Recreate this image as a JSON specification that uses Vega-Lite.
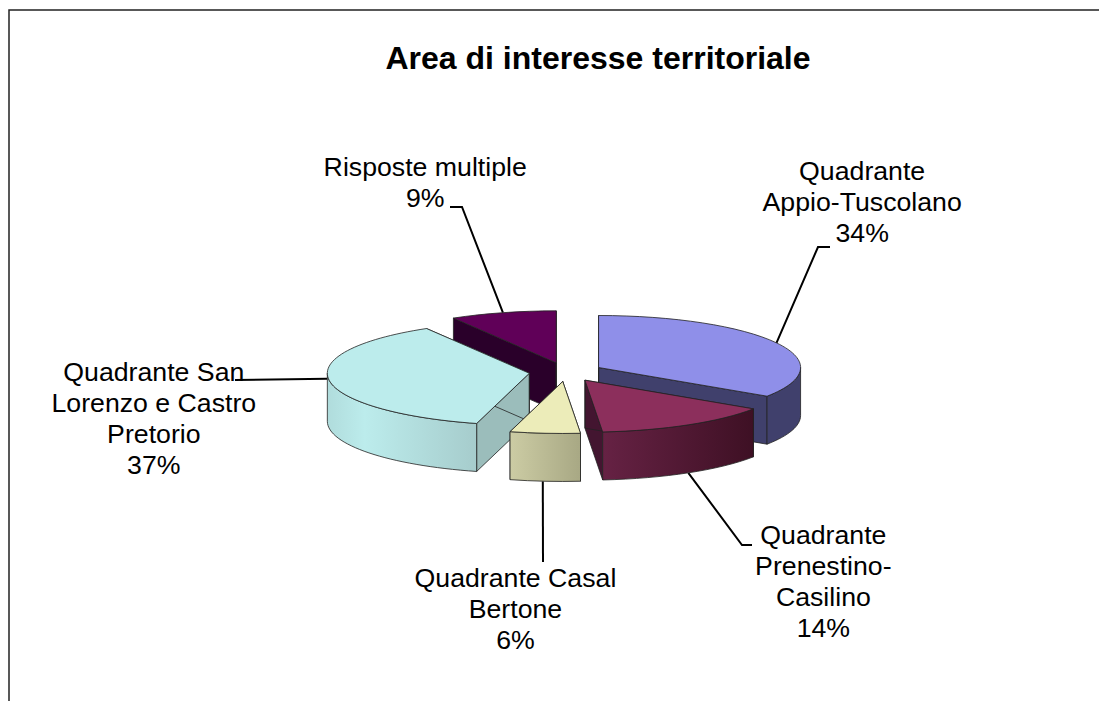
{
"$schema":"https://vega.github.io/schema/vega-lite/v6.json",
"width":1114,"height":724,"autosize":"none",
"padding":{"left":9,"top":10,"right":0,"bottom":0},
"background":"white",
"view":{"stroke":"#222","strokeWidth":1.5},
"title":{"text":"Area di interesse territoriale","font":"Liberation Sans","fontSize":32,"fontWeight":"bold","color":"black","anchor":"middle","dx":32,"offset":-98,"baseline":"bottom"},
"data":{"values":[
{"area":"Risposte multiple","label":"Risposte multiple\n9%","pct":8.5,"ord":5},
{"area":"Quadrante Appio-Tuscolano","label":"Quadrante\nAppio-Tuscolano\n34%","pct":34.3,"ord":1},
{"area":"Quadrante San Lorenzo e Castro Pretorio","label":"Quadrante San\nLorenzo e Castro\nPretorio\n37%","pct":37.3,"ord":4},
{"area":"Quadrante Prenestino-Casilino","label":"Quadrante\nPrenestino-\nCasilino\n14%","pct":14.3,"ord":2},
{"area":"Quadrante Casal Bertone","label":"Quadrante Casal\nBertone\n6%","pct":5.6,"ord":3}
]},
"transform":[
{"stack":"pct","groupby":[],"sort":[{"field":"ord","order":"ascending"}],"as":["s0","s1"]},
{"calculate":"datum.s0/100*2*PI","as":"t0"},
{"calculate":"datum.s1/100*2*PI","as":"t1"},
{"calculate":"(datum.t0+datum.t1)/2","as":"m"},
{"calculate":"37*sin(datum.m)","as":"ax"},
{"calculate":"-9.5*cos(datum.m)","as":"ay"},
{"calculate":"round((datum.ax+202*sin(datum.t0))*100)/100","as":"x0"},
{"calculate":"round((datum.ay-52*cos(datum.t0))*100)/100","as":"y0"},
{"calculate":"round((datum.ax+202*sin(datum.t1))*100)/100","as":"x1"},
{"calculate":"round((datum.ay-52*cos(datum.t1))*100)/100","as":"y1"},
{"calculate":"round(datum.ax*100)/100","as":"cx"},
{"calculate":"round(datum.ay*100)/100","as":"cy"},
{"calculate":"'M'+datum.cx+' '+datum.cy+' L'+datum.x0+' '+datum.y0+' A202 52 0 '+(datum.t1-datum.t0>PI?1:0)+' 1 '+datum.x1+' '+datum.y1+' Z'","as":"topPath"},
{"calculate":"'M'+datum.cx+' '+datum.cy+' L'+datum.x0+' '+datum.y0+' L'+datum.x0+' '+(datum.y0+48)+' L'+datum.cx+' '+(datum.cy+48)+' Z M'+datum.cx+' '+datum.cy+' L'+datum.x1+' '+datum.y1+' L'+datum.x1+' '+(datum.y1+48)+' L'+datum.cx+' '+(datum.cy+48)+' Z'","as":"facePath"},
{"calculate":"clamp(datum.t0,PI/2,3*PI/2)","as":"w0"},
{"calculate":"clamp(datum.t1,PI/2,3*PI/2)","as":"w1"},
{"calculate":"round((datum.ax+202*sin(datum.w0))*100)/100","as":"wx0"},
{"calculate":"round((datum.ay-52*cos(datum.w0))*100)/100","as":"wy0"},
{"calculate":"round((datum.ax+202*sin(datum.w1))*100)/100","as":"wx1"},
{"calculate":"round((datum.ay-52*cos(datum.w1))*100)/100","as":"wy1"},
{"calculate":"'M'+datum.wx0+' '+datum.wy0+' A202 52 0 0 1 '+datum.wx1+' '+datum.wy1+' L'+datum.wx1+' '+(datum.wy1+48)+' A202 52 0 0 0 '+datum.wx0+' '+(datum.wy0+48)+' Z'","as":"wallPath"},
{"calculate":"datum.ord-1","as":"i"},
{"calculate":"'M'+(round((datum.ax+202*sin(datum.m)+[0,0,-2.2,-2,0][datum.i])*100)/100)+' '+(round((datum.ay-52*cos(datum.m)+[0,48,48,-1.6,0][datum.i])*100)/100)+' L'+[252,176,-23,-331,-104][datum.i]+' '+[-125,173,190,8,-165][datum.i]+' L'+[264,186,-23,-331,-116][datum.i]+' '+[-125,173,190,8,-165][datum.i]","as":"leaderPath"}
],
"layer":[
{"mark":{"type":"point","filled":false,"size":4,"stroke":"black","strokeWidth":2,"opacity":1},
 "encoding":{"shape":{"field":"leaderPath","type":"nominal","scale":null}}},
{"mark":{"type":"point","filled":true,"size":4,"stroke":"#222","strokeWidth":0.8,"opacity":1},
 "encoding":{"shape":{"field":"facePath","type":"nominal","scale":null},
  "fill":{"field":"area","type":"nominal","legend":null,"scale":{"domain":["Quadrante Appio-Tuscolano","Quadrante Prenestino-Casilino","Quadrante Casal Bertone","Quadrante San Lorenzo e Castro Pretorio","Risposte multiple"],"range":["#40406c","#431530","#a8a884","#9bbdbb","#2a002a"]}}}},
{"transform":[{"filter":"datum.ord==1"}],"mark":{"type":"point","filled":true,"size":4,"stroke":"#222","strokeWidth":0.8,"opacity":1,"fill":"#40406c"},"encoding":{"shape":{"field":"wallPath","type":"nominal","scale":null}}},
{"transform":[{"filter":"datum.ord==4"}],"mark":{"type":"point","filled":true,"size":4,"stroke":"#222","strokeWidth":0.8,"opacity":1,"fill":{"gradient":"linear","x1":0,"y1":0,"x2":1,"y2":0,"stops":[{"offset":0,"color":"#b0dcdc"},{"offset":0.25,"color":"#bcecec"},{"offset":1,"color":"#a6cccc"}]}},"encoding":{"shape":{"field":"wallPath","type":"nominal","scale":null}}},
{"transform":[{"filter":"datum.ord==2"}],"mark":{"type":"point","filled":true,"size":4,"stroke":"#222","strokeWidth":0.8,"opacity":1,"fill":{"gradient":"linear","x1":0,"y1":0,"x2":1,"y2":0,"stops":[{"offset":0,"color":"#662244"},{"offset":1,"color":"#3e1024"}]}},"encoding":{"shape":{"field":"wallPath","type":"nominal","scale":null}}},
{"transform":[{"filter":"datum.ord==3"}],"mark":{"type":"point","filled":true,"size":4,"stroke":"#222","strokeWidth":0.8,"opacity":1,"fill":{"gradient":"linear","x1":0,"y1":0,"x2":1,"y2":0,"stops":[{"offset":0,"color":"#cccca4"},{"offset":1,"color":"#a8a884"}]}},"encoding":{"shape":{"field":"wallPath","type":"nominal","scale":null}}},
{"mark":{"type":"point","filled":true,"size":4,"stroke":"#222","strokeWidth":0.8,"opacity":1},
 "encoding":{"shape":{"field":"topPath","type":"nominal","scale":null},
  "fill":{"field":"label","type":"nominal","legend":null,"scale":{"domain":["Quadrante\nAppio-Tuscolano\n34%","Quadrante\nPrenestino-\nCasilino\n14%","Quadrante Casal\nBertone\n6%","Quadrante San\nLorenzo e Castro\nPretorio\n37%","Risposte multiple\n9%"],"range":["#8f8fe9","#8c2f5c","#ececb9","#bcecec","#600058"]}}}},
{"transform":[{"filter":"datum.ord==1"}],"mark":{"type":"text","radius":200,"dx":120,"dy":-105,"font":"Liberation Sans","fontSize":26.7,"lineHeight":31,"lineBreak":"\n","align":"center","baseline":"middle","color":"black"},"encoding":{"text":{"field":"label"},"theta":{"field":"m","type":"quantitative","scale":{"domain":[0,6.2832],"range":[0,6.2832]}}}},
{"transform":[{"filter":"datum.ord==2"}],"mark":{"type":"text","radius":200,"dx":155,"dy":-8,"font":"Liberation Sans","fontSize":26.7,"lineHeight":31,"lineBreak":"\n","align":"center","baseline":"middle","color":"black"},"encoding":{"text":{"field":"label"},"theta":{"field":"m","type":"quantitative","scale":{"domain":[0,6.2832],"range":[0,6.2832]}}}},
{"transform":[{"filter":"datum.ord==3"}],"mark":{"type":"text","radius":200,"dx":-33,"dy":8,"font":"Liberation Sans","fontSize":26.7,"lineHeight":31,"lineBreak":"\n","align":"center","baseline":"middle","color":"black"},"encoding":{"text":{"field":"label"},"theta":{"field":"m","type":"quantitative","scale":{"domain":[0,6.2832],"range":[0,6.2832]}}}},
{"transform":[{"filter":"datum.ord==4"}],"mark":{"type":"text","radius":200,"dx":-214,"dy":-26,"font":"Liberation Sans","fontSize":26.7,"lineHeight":31,"lineBreak":"\n","align":"center","baseline":"middle","color":"black"},"encoding":{"text":{"field":"label"},"theta":{"field":"m","type":"quantitative","scale":{"domain":[0,6.2832],"range":[0,6.2832]}}}},
{"transform":[{"filter":"datum.ord==5"}],"mark":{"type":"text","radius":200,"dx":-88,"dy":-11,"font":"Liberation Sans","fontSize":26.7,"lineHeight":31,"lineBreak":"\n","align":"center","baseline":"middle","color":"black"},"encoding":{"text":{"field":"label"},"theta":{"field":"m","type":"quantitative","scale":{"domain":[0,6.2832],"range":[0,6.2832]}}}}
],
"resolve":{"scale":{"fill":"independent"}}
}
